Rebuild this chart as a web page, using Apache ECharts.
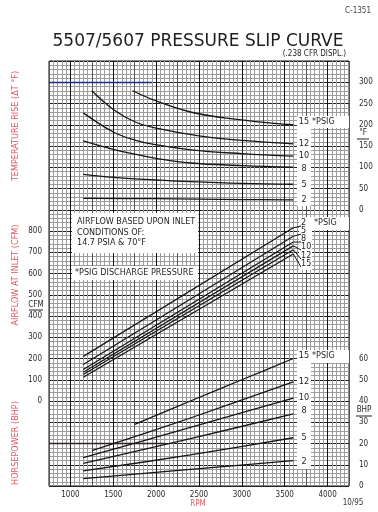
<!DOCTYPE html>
<html>
<head>
<meta charset="utf-8">
<script src="https://cdn.jsdelivr.net/npm/echarts@6/dist/echarts.min.js"></script>
<style>
html, body { margin: 0; padding: 0; background: #fff; }
#main { width: 378px; height: 512px; }
</style>
</head>
<body>
<div id="main"></div>
<script>
// tick labels
var rpmLabels = [1000, 1500, 2000, 2500, 3000, 3500, 4000];
var tempLabels = [0, 50, 100, 150, 200, 250, 300];
var cfmLabels = [0, 100, 200, 300, 400, 500, 600, 700, 800];
var bhpLabels = [0, 10, 20, 30, 40, 50, 60];

// discharge pressure of each curve (PSIG), top to bottom
var psig = ['15', '12', '10', '8', '5', '2'];

// temperature rise (deg F) vs rpm
var temp15 = [[1725, 280], [2000, 256], [2400, 230], [2800, 216], [3200, 207], [3600, 200]];
var temp12 = [[1250, 280], [1500, 236], [1750, 207], [2000, 192], [2500, 174], [3000, 163], [3600, 155]];
var temp10 = [[1150, 228], [1500, 183], [1750, 164], [2000, 153], [2400, 141], [3000, 132], [3600, 126]];
var temp8 = [[1150, 162], [1500, 142], [1750, 131], [2000, 121], [2400, 110], [3000, 104], [3600, 100]];
var temp5 = [[1150, 83], [1500, 76], [2000, 70], [2400, 66], [3000, 62], [3600, 60]];
var temp2 = [[1150, 27], [2000, 26], [3000, 24], [3600, 23]];

// airflow at inlet (CFM) vs rpm
var cfm2 = [[1150, 210], [3600, 815]];
var cfm5 = [[1150, 172], [3600, 775]];
var cfm8 = [[1150, 148], [3600, 748]];
var cfm10 = [[1150, 135], [3600, 730]];
var cfm12 = [[1150, 125], [3600, 712]];
var cfm15 = [[1150, 112], [3600, 692]];

// horsepower (BHP) vs rpm
var bhp15 = [[1750, 29], [2400, 40], [3000, 50], [3600, 60]];
var bhp12 = [[1250, 16.6], [2400, 32], [3600, 49]];
var bhp10 = [[1150, 13.3], [2400, 27.6], [3600, 41.3]];
var bhp8 = [[1150, 10.7], [2400, 22.3], [3600, 33.9]];
var bhp5 = [[1150, 7.1], [2400, 14.6], [3600, 22.7]];
var bhp2 = [[1150, 3.5], [2400, 7.8], [3600, 11.9]];

var FONT = "'DejaVu Sans Condensed', 'DejaVu Sans', sans-serif";
var RED = '#e5575f';
var INK = '#151515';

function onlyIn(list) {
    return function (v) { return list.indexOf(v) >= 0 ? String(v) : ''; };
}

function line(data, yIdx, smooth) {
    return {
        type: 'line', data: data, xAxisIndex: 0, yAxisIndex: yIdx,
        smooth: smooth, symbol: 'none', clip: false, z: 5,
        lineStyle: { color: INK, width: 1.3 }
    };
}

var labelStyle = { fontFamily: FONT, fontSize: 8, color: '#2a2a2a' };

var chart = echarts.init(document.getElementById('main'));

// heavier printed rules on the paper (300 deg F row, 20 BHP row)
var tempSeries2 = line(temp2, 0, 0.4);
tempSeries2.markLine = {
    silent: true, symbol: 'none', label: { show: false },
    lineStyle: { color: '#1c2c86', width: 1.4, type: 'solid' },
    data: [[{ coord: [750, 300] }, { coord: [1950, 300] }]]
};
var bhpSeries2 = line(bhp2, 2, 0.3);
bhpSeries2.markLine = {
    silent: true, symbol: 'none', label: { show: false },
    lineStyle: { color: '#3a1c26', width: 1.4, type: 'solid' },
    data: [[{ coord: [750, 20] }, { coord: [2100, 20] }]]
};

var option = {
    animation: false,
    grid: {
        left: 49, top: 61, width: 300, height: 425,
        show: true, borderColor: '#111', borderWidth: 1
    },
    xAxis: [{
        type: 'value', min: 750, max: 4250, interval: 250,
        axisLine: { show: false }, axisTick: { show: false },
        axisLabel: Object.assign({ margin: 5, formatter: onlyIn(rpmLabels) }, labelStyle),
        splitLine: { show: true, lineStyle: { color: ['#555', '#151515'], width: 1 } },
        minorTick: { show: false, splitNumber: 5 },
        minorSplitLine: { show: true, lineStyle: { color: '#9c9c9c', width: 1 } }
    }],
    yAxis: [{
        // temperature rise, deg F
        type: 'value', position: 'right', min: -650, max: 350, interval: 50,
        axisLine: { show: false }, axisTick: { show: false },
        axisLabel: Object.assign({ margin: 10, formatter: onlyIn(tempLabels) }, labelStyle),
        splitLine: { show: true, lineStyle: { color: '#222', width: 1 } },
        minorTick: { show: false, splitNumber: 5 },
        minorSplitLine: { show: true, lineStyle: { color: '#9c9c9c', width: 1 } }
    }, {
        // airflow, CFM
        type: 'value', position: 'left', min: -400, max: 1600, interval: 100,
        axisLine: { show: false }, axisTick: { show: false },
        axisLabel: Object.assign({ margin: 7, formatter: onlyIn(cfmLabels) }, labelStyle),
        splitLine: { show: false }
    }, {
        // horsepower, BHP
        type: 'value', position: 'right', min: 0, max: 200, interval: 10,
        axisLine: { show: false }, axisTick: { show: false },
        axisLabel: Object.assign({ margin: 10, formatter: onlyIn(bhpLabels) }, labelStyle),
        splitLine: { show: false }
    }],
    series: [
        line(temp15, 0, 0.4), line(temp12, 0, 0.4), line(temp10, 0, 0.4),
        line(temp8, 0, 0.4), line(temp5, 0, 0.4), tempSeries2,
        line(cfm2, 1, false), line(cfm5, 1, false), line(cfm8, 1, false),
        line(cfm10, 1, false), line(cfm12, 1, false), line(cfm15, 1, false),
        line(bhp15, 2, 0.3), line(bhp12, 2, 0.3), line(bhp10, 2, 0.3),
        line(bhp8, 2, 0.3), line(bhp5, 2, 0.3), bhpSeries2
    ]
};
chart.setOption(option);

// annotations: white boxes, texts, leader lines
function txt(x, y, s, size, opts) {
    opts = opts || {};
    return {
        type: 'text', x: x, y: y, z: 20, rotation: opts.rot || 0,
        style: {
            text: s, fontFamily: opts.family || FONT, fontSize: size,
            fill: opts.color || '#1e1e1e', align: opts.align || 'left', verticalAlign: 'middle'
        }
    };
}
function box(x, y, w, h) {
    return { type: 'rect', z: 3, shape: { x: x, y: y, width: w, height: h }, style: { fill: '#fff' } };
}

var g = [];
// white label areas
g.push(box(297, 116, 52, 12), box(297, 128, 14, 78));
g.push(box(310, 217, 39, 13), box(299, 217, 13, 53));
g.push(box(297, 350, 52, 13), box(297, 363, 14, 106));
g.push(box(72, 213, 126, 40), box(72, 266, 126, 14));

// titles
g.push(txt(358, 11, 'C-1351', 8, { align: 'center', color: '#444' }));
g.push(txt(198, 42, '5507/5607 PRESSURE SLIP CURVE', 17, { align: 'center', family: "'DejaVu Sans', sans-serif" }));
g.push(txt(346, 54, '(.238 CFR DISPL.)', 8, { align: 'right' }));

// red axis titles
g.push(txt(16, 126, 'TEMPERATURE RISE (ΔT °F)', 9, { align: 'center', color: RED, rot: Math.PI / 2 }));
g.push(txt(16, 275, 'AIRFLOW AT INLET (CFM)', 9, { align: 'center', color: RED, rot: Math.PI / 2 }));
g.push(txt(16, 443, 'HORSEPOWER (BHP)', 9, { align: 'center', color: RED, rot: Math.PI / 2 }));
g.push(txt(198, 504, 'RPM', 8, { align: 'center', color: RED }));
g.push(txt(353, 503, '10/95', 8, { align: 'center', color: '#333' }));

// unit captions
g.push(txt(36, 305, 'CFM', 8, { align: 'center' }));
g.push({ type: 'line', z: 20, shape: { x1: 29, y1: 310, x2: 43, y2: 310 }, style: { stroke: '#222', lineWidth: 1 } });
g.push(txt(363, 133, '°F', 8, { align: 'center' }));
g.push({ type: 'line', z: 20, shape: { x1: 357, y1: 139, x2: 369, y2: 139 }, style: { stroke: '#222', lineWidth: 1 } });
g.push(txt(364, 410, 'BHP', 8, { align: 'center' }));
g.push({ type: 'line', z: 20, shape: { x1: 356, y1: 416, x2: 372, y2: 416 }, style: { stroke: '#222', lineWidth: 1 } });

// notes in the middle panel
g.push(txt(77, 222, 'AIRFLOW BASED UPON INLET', 9));
g.push(txt(77, 233, 'CONDITIONS OF:', 9));
g.push(txt(77, 243, '14.7 PSIA & 70°F', 9));
g.push(txt(75, 273, '*PSIG DISCHARGE PRESSURE', 9));

// top and bottom panel labels
var topY = [122, 144, 156, 169, 185, 200];
var botY = [356, 382, 398, 411, 438, 462];
psig.forEach(function (p, i) {
    g.push(txt(304, topY[i], p, 9, { align: 'center' }));
    g.push(txt(304, botY[i], p, 9, { align: 'center' }));
});
g.push(txt(312, 122, '*PSIG', 9));
g.push(txt(312, 356, '*PSIG', 9));

// middle panel labels with leaders
var midPsig = ['2', '5', '8', '10', '12', '15'];
var midEnds = [cfm2, cfm5, cfm8, cfm10, cfm12, cfm15];
var midY = [223, 231, 239, 247, 256, 264];
midPsig.forEach(function (p, i) {
    var last = midEnds[i][midEnds[i].length - 1];
    var pt = chart.convertToPixel({ xAxisIndex: 0, yAxisIndex: 1 }, last);
    g.push({ type: 'line', z: 20, shape: { x1: pt[0], y1: pt[1], x2: 301, y2: midY[i] + 3 },
        style: { stroke: INK, lineWidth: 1 } });
    g.push(txt(301, midY[i], p, 9));
});
g.push(txt(314, 223, '*PSIG', 9));

chart.setOption({ graphic: { elements: g } });
</script>
</body>
</html>
